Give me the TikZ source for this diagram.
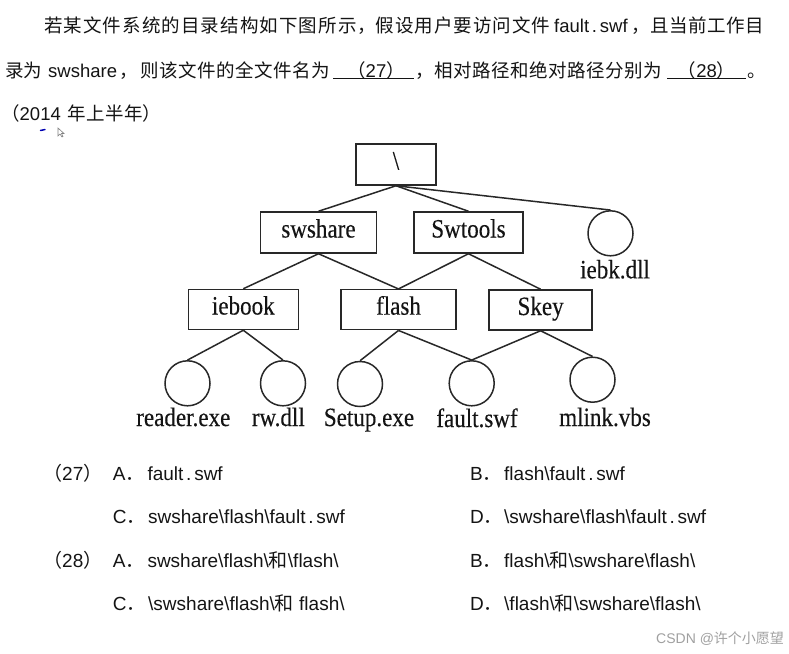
\documentclass[tikz,border=0pt]{standalone}
\usepackage{fontspec}
\setmainfont{Liberation Sans}
\newfontfamily\cjk{Noto Sans CJK SC}
\newfontfamily\treefont[FakeStretch=0.87,FakeBold=0.3]{Liberation Serif}
\newcommand\zh[1]{{\cjk #1}}
\newcommand\pitch[2]{{\cjk\def\pitchw{#1}\pitchloop#2\relax}}
\def\pitchloop#1{\ifx#1\relax\else\makebox[\pitchw]{#1}\expandafter\pitchloop\fi}
\newcommand\bs{\textbackslash}
\newcommand\fsw{fault\kern2.8pt.\kern2.8pt swf}
\definecolor{linec}{RGB}{40,40,40}
\definecolor{txtc}{RGB}{20,20,20}
\definecolor{wmgray}{RGB}{160,160,160}
\tikzset{
  dirbox/.style={draw=linec, line width=1.5pt, minimum height=41pt, inner sep=0pt,
    font=\treefont\fontsize{26.5}{26.5}\selectfont, text height=14pt, text depth=4pt, text=txtc},
  filec/.style={draw=linec, circle, minimum size=45pt, inner sep=0pt, line width=1.5pt},
  flabel/.style={anchor=base, inner sep=0pt, font=\treefont\fontsize{26.5}{26.5}\selectfont, text=txtc},
  edge/.style={draw=linec, line width=1.5pt},
  txt/.style={anchor=base west, inner sep=0pt, font=\fontsize{18.5}{22}\selectfont, text=txtc},
  opt/.style={anchor=base west, inner sep=0pt, font=\fontsize{19}{22}\selectfont, text=txtc},
}
\begin{document}
\begin{tikzpicture}[x=1pt,y=-1pt]
\useasboundingbox (0,0) rectangle (789,653);
\fill[white] (0,0) rectangle (789,653);

% ---- question text ----
\node[txt] (l1a) at (43.3,32) {\pitch{19.6pt}{若某文件系统的目录结构如下图所示，}};
\node[txt] (l1b) at (375,32) {\pitch{19.5pt}{假设用户要访问文件}};
\node[txt] (l1c) at (554,32) {\fsw};
\node[txt] (l1d) at (631,32) {\pitch{19pt}{，且当前工作目}};

\node[txt] (l2a) at (5,77) {\pitch{18.5pt}{录为}};
\node[txt] (l2b) at (48,77) {swshare};
\node[txt] (l2c) at (117,77) {\pitch{23pt}{，}};
\node[txt] (l2d) at (140,77) {\pitch{19pt}{则该文件的全文件名为}};
\node[txt, anchor=base] (b27) at (376,77) {\zh{（}27\zh{）}};
\node[txt] (l2e) at (415,77) {\pitch{19pt}{，相对路径和绝对路径分别为}};
\node[txt, anchor=base] (b28) at (706.6,77) {\zh{（}28\zh{）}};
\node[txt] (l2f) at (747,77) {\zh{。}};
\coordinate (u1a) at (333,78.5);
\coordinate (u1b) at (413.5,78.5);
\coordinate (u2a) at (667,78.5);
\coordinate (u2b) at (746,78.5);
\draw[txtc, line width=1.4pt] (u1a) -- (u1b);
\draw[txtc, line width=1.4pt] (u2a) -- (u2b);

\node[txt] (l3) at (1,120) {\zh{（}2014\hspace{7pt}\pitch{18.75pt}{年上半年}\zh{）}};

% cursor artefacts
\draw[blue!70!black, line width=1.5pt, line cap=round] (40.5,130.5) -- (45,129.5);
\draw[gray, line width=0.6pt] (58,128) -- (58,136) -- (60,134) -- (62,137) -- (63,136.5) -- (61.5,133.5) -- (64,133.5) -- cycle;

% ---- tree ----
\node[dirbox, minimum width=80pt] (root) at (396,164.5) {\textbackslash};
\node[dirbox, minimum width=116pt] (swshare) at (318.5,232.5) {swshare};
\node[dirbox, minimum width=109pt] (swtools) at (468.5,232.5) {Swtools};
\node[dirbox, minimum width=110pt, minimum height=40pt] (iebook) at (243.3,309.5) {iebook};
\node[dirbox, minimum width=115pt, minimum height=40pt] (flash) at (398.5,309.7) {flash};
\node[dirbox, minimum width=103pt, minimum height=40pt] (skey) at (540.6,310) {Skey};

\node[filec] (iebk) at (610.5,233.3) {};
\node[filec] (reader) at (187.5,383.3) {};
\node[filec] (rw) at (283,383.3) {};
\node[filec] (setup) at (360,384) {};
\node[filec] (fault) at (471.7,383.3) {};
\node[filec] (mlink) at (592.5,379.7) {};

\node[flabel] (liebk) at (615,278.3) {iebk.dll};
\node[flabel] (lreader) at (183.3,426) {reader.exe};
\node[flabel] (lrw) at (278.3,426) {rw.dll};
\node[flabel] (lsetup) at (369,426) {Setup.exe};
\node[flabel] (lfault) at (477,427) {fault.swf};
\node[flabel] (lmlink) at (605,426) {mlink.vbs};

\draw[edge] (root.south) -- (swshare.north);
\draw[edge] (root.south) -- (swtools.north);
\draw[edge] (root.south) -- (iebk.north);
\draw[edge] (swshare.south) -- (iebook.north);
\draw[edge] (swshare.south) -- (flash.north);
\draw[edge] (swtools.south) -- (flash.north);
\draw[edge] (swtools.south) -- (skey.north);
\draw[edge] (iebook.south) -- (reader.north);
\draw[edge] (iebook.south) -- (rw.north);
\draw[edge] (flash.south) -- (setup.north);
\draw[edge] (flash.south) -- (fault.north);
\draw[edge] (skey.south) -- (fault.north);
\draw[edge] (skey.south) -- (mlink.north);

% ---- options ----
\node[opt] (q27) at (43,480) {\zh{（}27\zh{）}};
\node[opt] (a27l) at (112.7,480) {A\zh{．}};
\node[opt] (a27t) at (147.3,480) {\fsw};
\node[opt] (b27l) at (470,480) {B\zh{．}};
\node[opt] (b27t) at (504,480) {flash\bs\fsw};
\node[opt] (c27l) at (112.7,523.5) {C\zh{．}};
\node[opt] (c27t) at (148,523.5) {swshare\bs flash\bs\fsw};
\node[opt] (d27l) at (470,523.5) {D\zh{．}};
\node[opt] (d27t) at (504,523.5) {\bs swshare\bs flash\bs\fsw};

\node[opt] (q28) at (43,567) {\zh{（}28\zh{）}};
\node[opt] (a28l) at (112.7,567) {A\zh{．}};
\node[opt] (a28t) at (147.3,567) {swshare\bs flash\bs\zh{和}\bs flash\bs};
\node[opt] (b28l) at (470,567) {B\zh{．}};
\node[opt] (b28t) at (504,567) {flash\bs\zh{和}\bs swshare\bs flash\bs};
\node[opt] (c28l) at (112.7,610) {C\zh{．}};
\node[opt] (c28t) at (148,610) {\bs swshare\bs flash\bs\zh{和} flash\bs};
\node[opt] (d28l) at (470,610) {D\zh{．}};
\node[opt] (d28t) at (504,610) {\bs flash\bs\zh{和}\bs swshare\bs flash\bs};

% watermark
\node[anchor=base west, inner sep=0pt, font=\fontsize{14}{14}\selectfont, text=wmgray] (wm) at (656,643) {CSDN @\zh{许个小愿望}};
\end{tikzpicture}
\end{document}
